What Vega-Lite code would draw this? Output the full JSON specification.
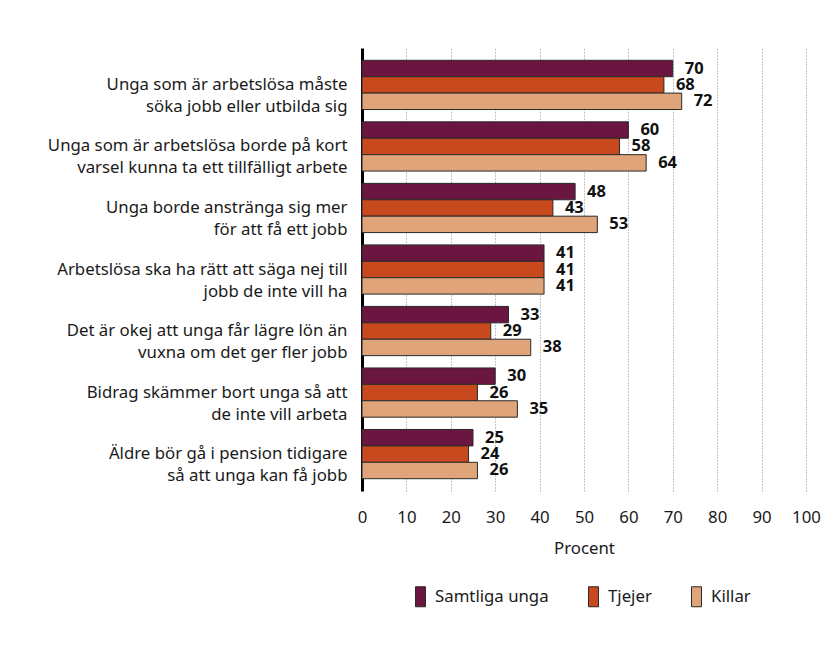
{
  "$schema": "https://vega.github.io/schema/vega-lite/v6.json",
  "width": 444,
  "height": 443,
  "autosize": {"type": "none"},
  "padding": {"left": 362, "top": 48, "right": 31, "bottom": 154},
  "background": "white",
  "config": {
    "font": "Noto Sans",
    "view": {"stroke": null},
    "axis": {"labelColor": "#1a1a1a", "titleColor": "#1a1a1a"}
  },
  "data": {
    "values": [
      {"q": "Unga som är arbetslösa måste|söka jobb eller utbilda sig", "grupp": "Samtliga unga", "v": 70},
      {"q": "Unga som är arbetslösa måste|söka jobb eller utbilda sig", "grupp": "Tjejer", "v": 68},
      {"q": "Unga som är arbetslösa måste|söka jobb eller utbilda sig", "grupp": "Killar", "v": 72},
      {"q": "Unga som är arbetslösa borde på kort|varsel kunna ta ett tillfälligt arbete", "grupp": "Samtliga unga", "v": 60},
      {"q": "Unga som är arbetslösa borde på kort|varsel kunna ta ett tillfälligt arbete", "grupp": "Tjejer", "v": 58},
      {"q": "Unga som är arbetslösa borde på kort|varsel kunna ta ett tillfälligt arbete", "grupp": "Killar", "v": 64},
      {"q": "Unga borde anstränga sig mer|för att få ett jobb", "grupp": "Samtliga unga", "v": 48},
      {"q": "Unga borde anstränga sig mer|för att få ett jobb", "grupp": "Tjejer", "v": 43},
      {"q": "Unga borde anstränga sig mer|för att få ett jobb", "grupp": "Killar", "v": 53},
      {"q": "Arbetslösa ska ha rätt att säga nej till|jobb de inte vill ha", "grupp": "Samtliga unga", "v": 41},
      {"q": "Arbetslösa ska ha rätt att säga nej till|jobb de inte vill ha", "grupp": "Tjejer", "v": 41},
      {"q": "Arbetslösa ska ha rätt att säga nej till|jobb de inte vill ha", "grupp": "Killar", "v": 41},
      {"q": "Det är okej att unga får lägre lön än|vuxna om det ger fler jobb", "grupp": "Samtliga unga", "v": 33},
      {"q": "Det är okej att unga får lägre lön än|vuxna om det ger fler jobb", "grupp": "Tjejer", "v": 29},
      {"q": "Det är okej att unga får lägre lön än|vuxna om det ger fler jobb", "grupp": "Killar", "v": 38},
      {"q": "Bidrag skämmer bort unga så att|de inte vill arbeta", "grupp": "Samtliga unga", "v": 30},
      {"q": "Bidrag skämmer bort unga så att|de inte vill arbeta", "grupp": "Tjejer", "v": 26},
      {"q": "Bidrag skämmer bort unga så att|de inte vill arbeta", "grupp": "Killar", "v": 35},
      {"q": "Äldre bör gå i pension tidigare|så att unga kan få jobb", "grupp": "Samtliga unga", "v": 25},
      {"q": "Äldre bör gå i pension tidigare|så att unga kan få jobb", "grupp": "Tjejer", "v": 24},
      {"q": "Äldre bör gå i pension tidigare|så att unga kan få jobb", "grupp": "Killar", "v": 26}
    ]
  },
  "encoding": {
    "y": {
      "field": "q", "type": "nominal", "sort": null,
      "scale": {"paddingInner": 0.2, "paddingOuter": 0.2},
      "axis": {
        "title": null, "labelExpr": "split(datum.value, '|')",
        "labelFontSize": 16.8, "labelLineHeight": 22, "labelPadding": 15,
        "ticks": false, "domainColor": "#000", "domainWidth": 3,
        "labelLimit": 400
      }
    },
    "yOffset": {"field": "grupp", "type": "nominal", "sort": ["Samtliga unga", "Tjejer", "Killar"], "scale": {"paddingInner": 0, "paddingOuter": 0}},
    "x": {
      "field": "v", "type": "quantitative",
      "scale": {"domain": [0, 100]},
      "axis": {
        "title": "Procent", "values": [0, 10, 20, 30, 40, 50, 60, 70, 80, 90, 100],
        "domain": false, "ticks": false, "labelFontSize": 16.8, "labelPadding": 18, "labelFlush": false,
        "titleFontSize": 16.8, "titleFontWeight": "normal", "titlePadding": 15,
        "grid": true, "gridDash": [1, 2], "gridColor": "#888", "gridWidth": 1
      }
    }
  },
  "layer": [
    {
      "mark": {"type": "bar", "stroke": "#2a2a2a", "strokeWidth": 1},
      "encoding": {
        "color": {
          "field": "grupp", "type": "nominal",
          "scale": {"domain": ["Samtliga unga", "Tjejer", "Killar"], "range": ["#6B1640", "#C9491E", "#E0A47A"]},
          "legend": {
            "title": null, "orient": "none", "direction": "horizontal",
            "legendX": 48, "legendY": 538,
            "symbolType": "M-0.5,-1H0.5V1H-0.5Z", "symbolSize": 400,
            "symbolStrokeColor": "#2a2a2a", "symbolStrokeWidth": 1, "symbolOpacity": 1,
            "labelFontSize": 16.8, "labelColor": "#1a1a1a", "columnPadding": 34
          }
        }
      }
    },
    {
      "mark": {"type": "text", "align": "left", "dx": 12, "fontWeight": "bold", "fontSize": 16.5, "color": "#111"},
      "encoding": {"text": {"field": "v", "type": "quantitative"}}
    }
  ]
}
